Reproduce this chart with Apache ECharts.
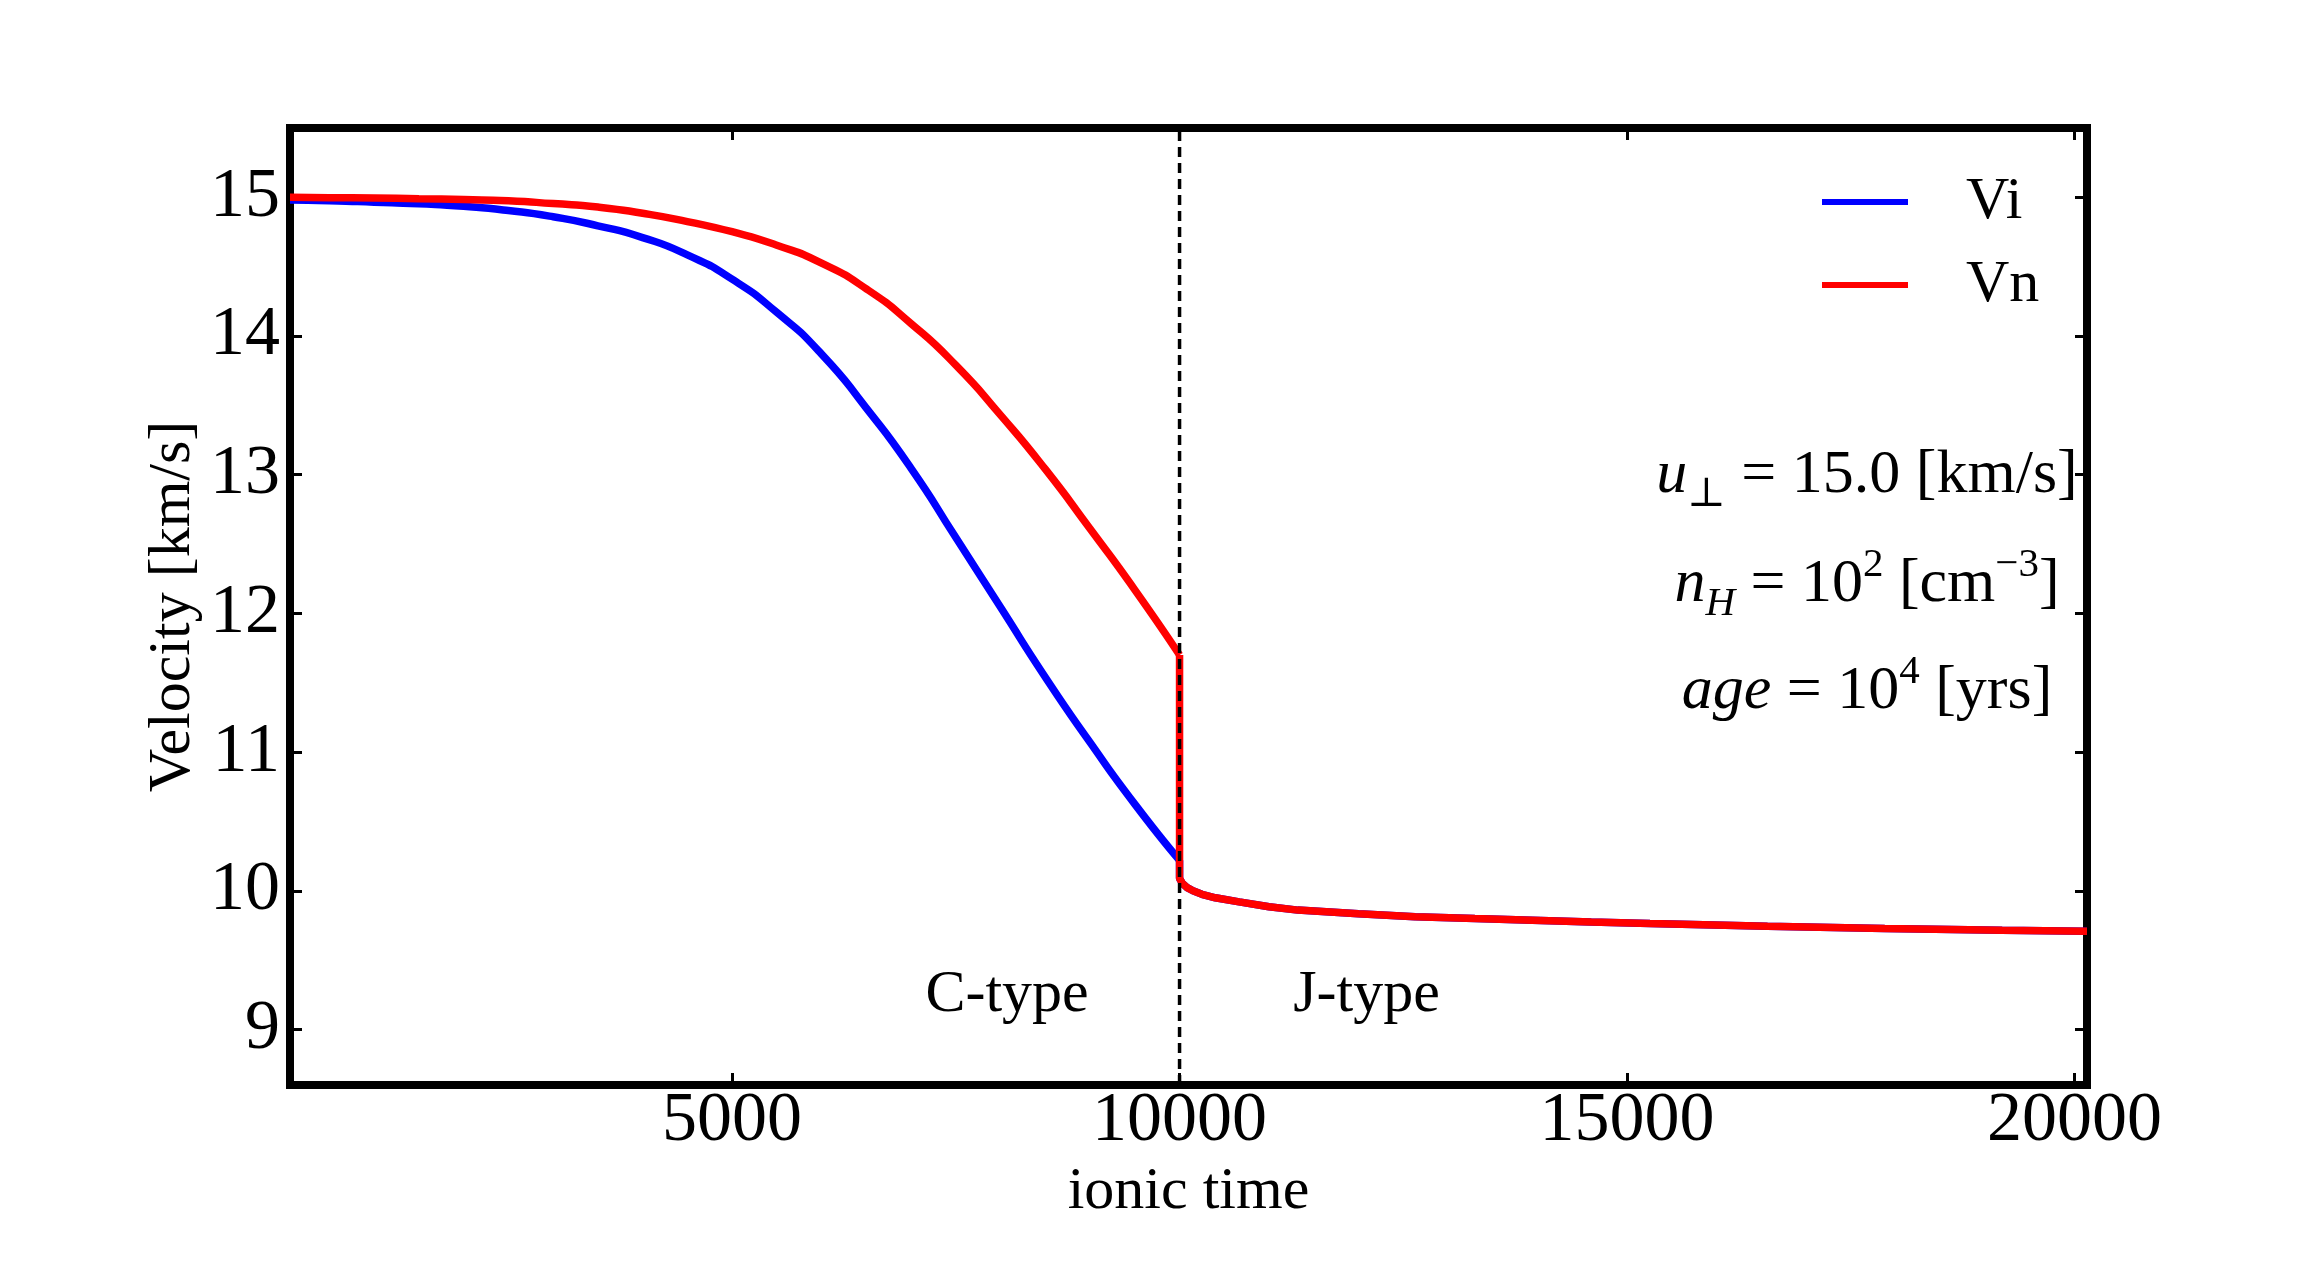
<!DOCTYPE html>
<html>
<head>
<meta charset="utf-8">
<script src="https://cdn.jsdelivr.net/npm/echarts@6/dist/echarts.min.js"></script>
<style>
  html, body { margin: 0; padding: 0; background: #fff; }
  #chart { width: 2318px; height: 1277px; }
</style>
</head>
<body>
<div id="chart"></div>
<script>
const xTicks = [5000, 10000, 15000, 20000];
const yTicks = [9, 10, 11, 12, 13, 14, 15];
const shockTime = 10000;

// C-type part (smooth), up to the shock
const preTime = [60, 500, 1000, 1500, 2000, 2500, 3000, 3500, 4000, 4500, 5000, 5500, 6000, 6500, 7000, 7500, 8000, 8500, 9000, 9500, 10000];
const viPreVel = [14.98, 14.975, 14.965, 14.953, 14.935, 14.905, 14.86, 14.795, 14.71, 14.585, 14.41, 14.17, 13.87, 13.48, 13.046, 12.547, 12.044, 11.54, 11.07, 10.625, 10.22];
const vnPreVel = [15.0, 14.998, 14.995, 14.99, 14.984, 14.975, 14.955, 14.93, 14.885, 14.825, 14.752, 14.655, 14.525, 14.34, 14.09, 13.79, 13.43, 13.04, 12.61, 12.17, 11.70];

// J-type part, from the jump on
const postTime = [10000, 10000, 10030, 10080, 10150, 10250, 10400, 10666, 11000, 11322, 12000, 12633, 13300, 13944, 14600, 15257, 16570, 17880, 19192, 20140];
const viPostVel = [10.22, 10.09, 10.055, 10.025, 10.0, 9.975, 9.95, 9.92, 9.885, 9.861, 9.834, 9.813, 9.80, 9.788, 9.776, 9.764, 9.745, 9.728, 9.716, 9.708];
const vnPostVel = [11.70, 10.09, 10.055, 10.025, 10.0, 9.975, 9.95, 9.92, 9.885, 9.861, 9.834, 9.813, 9.80, 9.788, 9.776, 9.764, 9.745, 9.728, 9.716, 9.708];

const xMin = 60, xMax = 20140;
const yMin = 8.6, yMax = 15.5;

const FONT = '"Liberation Serif", "DejaVu Serif", serif';
const BLUE = '#0000ff', RED = '#ff0000';

const chart = echarts.init(document.getElementById('chart'));

const zip = (xs, ys) => xs.map((x, i) => [x, ys[i]]);

const tickStyle = { show: true, inside: true, length: 12, lineStyle: { color: '#000', width: 3 } };

const curve = (name, color, data, smooth) => ({
  name, type: 'line', data, smooth,
  showSymbol: false, symbol: 'none',
  lineStyle: { color, width: 7.5 }, itemStyle: { color }
});

const option = {
  animation: false,
  backgroundColor: '#fff',
  grid: {
    left: 290, right: 231, top: 128, bottom: 192,
    show: true, borderColor: '#000', borderWidth: 8, backgroundColor: 'transparent'
  },
  legend: {
    data: ['Vi', 'Vn'],
    orient: 'vertical',
    left: 1822, top: 172,
    padding: 0,
    itemWidth: 86, itemHeight: 6, itemGap: 23,
    icon: 'rect',
    textStyle: { fontFamily: FONT, fontSize: 60, lineHeight: 60, color: '#000', padding: [0, 0, 0, 53] }
  },
  xAxis: [{
    type: 'value', position: 'bottom', min: xMin, max: xMax,
    splitLine: { show: false },
    axisLine: { show: false },
    axisTick: Object.assign({ customValues: xTicks }, tickStyle),
    axisLabel: { customValues: xTicks, formatter: v => String(v), fontFamily: FONT, fontSize: 70, color: '#000', margin: 2 },
    name: 'ionic time', nameLocation: 'middle', nameGap: 70,
    nameTextStyle: { fontFamily: FONT, fontSize: 60, color: '#000' }
  }, {
    type: 'value', position: 'top', min: xMin, max: xMax,
    splitLine: { show: false }, axisLine: { show: false },
    axisTick: Object.assign({ customValues: xTicks }, tickStyle),
    axisLabel: { show: false }
  }],
  yAxis: [{
    type: 'value', position: 'left', min: yMin, max: yMax,
    splitLine: { show: false },
    axisLine: { show: false },
    axisTick: Object.assign({ customValues: yTicks }, tickStyle),
    axisLabel: { customValues: yTicks, formatter: v => String(v), fontFamily: FONT, fontSize: 70, color: '#000', margin: 10 },
    name: 'Velocity [km/s]', nameLocation: 'middle', nameGap: 87, nameMoveOverlap: false,
    nameTextStyle: { fontFamily: FONT, fontSize: 60, color: '#000' }
  }, {
    type: 'value', position: 'right', min: yMin, max: yMax,
    splitLine: { show: false }, axisLine: { show: false },
    axisTick: Object.assign({ customValues: yTicks }, tickStyle),
    axisLabel: { show: false }
  }],
  series: [
    curve('Vi', BLUE, zip(preTime, viPreVel), 0.6),
    curve('Vi', BLUE, zip(postTime, viPostVel), false),
    curve('Vn', RED, zip(preTime, vnPreVel), 0.6),
    curve('Vn', RED, zip(postTime, vnPostVel), false),
    {
      name: 'shock', type: 'line', data: [[shockTime, yMin], [shockTime, yMax]],
      showSymbol: false, symbol: 'none', z: 5,
      lineStyle: { color: '#000', width: 3.5, type: [10, 6] }
    }
  ]
};

chart.setOption(option);

// annotations placed from data coordinates
const at = (x, y) => chart.convertToPixel({ gridIndex: 0 }, [x, y]);
const cPos = at(8073, 9.245);
const jPos = at(12089, 9.245);

const rich = {
  m: { fontFamily: FONT, fontSize: 62, lineHeight: 80, verticalAlign: 'middle', fill: '#000' },
  it: { fontFamily: FONT, fontSize: 62, fontStyle: 'italic', lineHeight: 80, verticalAlign: 'middle', fill: '#000' },
  sub: { fontFamily: FONT, fontSize: 41, lineHeight: 40, verticalAlign: 'bottom', fill: '#000' },
  subit: { fontFamily: FONT, fontSize: 41, fontStyle: 'italic', lineHeight: 40, verticalAlign: 'bottom', fill: '#000' },
  sup: { fontFamily: FONT, fontSize: 41, lineHeight: 40, verticalAlign: 'top', fill: '#000' }
};

const plainText = (pos, text) => ({
  type: 'text', x: pos[0], y: pos[1], z: 10,
  style: { text, fontFamily: FONT, fontSize: 60, fill: '#000', align: 'center', verticalAlign: 'middle' }
});

const richText = (x, y, text) => ({
  type: 'text', x, y, z: 10,
  style: { text, rich, align: 'center', verticalAlign: 'middle', fontFamily: FONT, fontSize: 62, fill: '#000' }
});

chart.setOption({
  graphic: [
    plainText(cPos, 'C-type'),
    plainText(jPos, 'J-type'),
    richText(1867, 476, '{it|u}{sub|⊥}{m| = 15.0 [km/s]}'),
    richText(1867, 585, '{it|n}{subit|H}{m| = 10}{sup|2}{m| [cm}{sup|−3}{m|]}'),
    richText(1867, 692, '{it|age}{m| = 10}{sup|4}{m| [yrs]}')
  ]
});

window.addEventListener('resize', () => chart.resize());
</script>
</body>
</html>
